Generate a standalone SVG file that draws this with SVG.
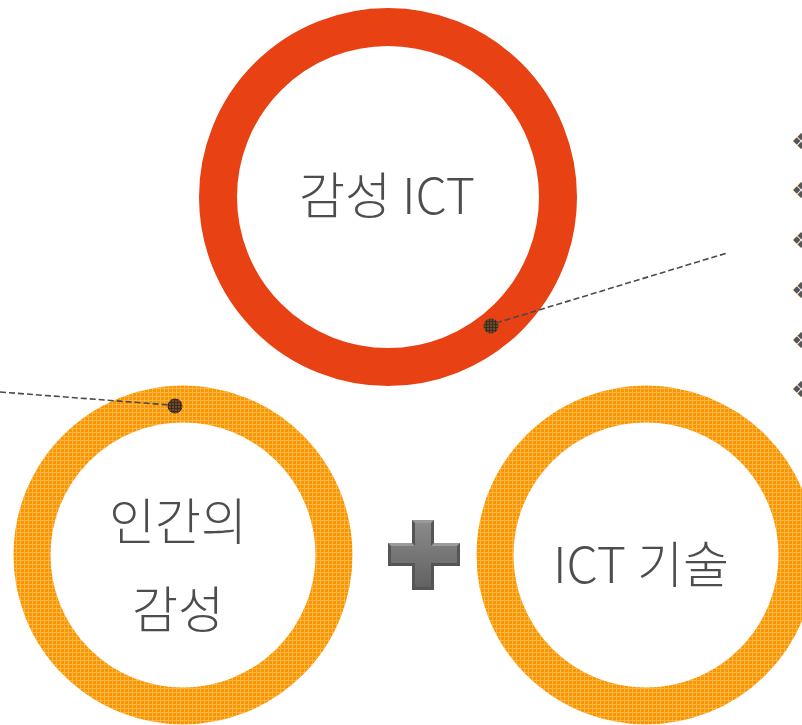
<svg xmlns="http://www.w3.org/2000/svg" width="802" height="725" viewBox="0 0 802 725">
  <style>
    .label { font-family: "Noto Sans CJK KR", "Noto Sans", sans-serif; font-weight: 300; font-size: 50px; fill: #4d4d4d; text-anchor: middle; }
    .leader { fill: none; stroke: #4a4a4a; stroke-width: 1.6; stroke-dasharray: 6 3; }
    .bullet { font-family: "DejaVu Sans", sans-serif; font-size: 22px; fill: #555555; text-anchor: middle; }
  </style>
  <defs>
    <pattern id="orangeTex" width="4" height="4" patternUnits="userSpaceOnUse">
      <rect width="4" height="4" fill="#FA9600"/>
      <rect x="0" y="0" width="1" height="4" fill="#FDB64A"/>
      <rect x="0" y="0" width="4" height="1" fill="#FDB64A"/>
    </pattern>
    <pattern id="dotTex" width="3" height="3" patternUnits="userSpaceOnUse">
      <rect width="3" height="3" fill="#6a4b2c"/>
      <rect x="0" y="0" width="1" height="3" fill="#3f2c1c"/>
      <rect x="0" y="0" width="3" height="1" fill="#3f2c1c"/>
    </pattern>
    <linearGradient id="plusGrad" x1="0" y1="0" x2="0" y2="1">
      <stop offset="0" stop-color="#8a8a8a"/>
      <stop offset="1" stop-color="#626262"/>
    </linearGradient>
  </defs>

  <g id="node-emotional-ict">
    <circle cx="388" cy="197" r="170" fill="#ffffff" stroke="#E84113" stroke-width="38"/>
    <text class="label" x="387" y="214" font-size="52">감성 ICT</text>
  </g>

  <g id="node-human-emotion">
    <circle cx="183" cy="555" r="151" fill="#ffffff" stroke="url(#orangeTex)" stroke-width="37"/>
    <text class="label" x="178" y="540">인간의</text>
    <text class="label" x="178" y="628">감성</text>
  </g>

  <g id="node-ict-tech">
    <circle cx="646" cy="555" r="151" fill="#ffffff" stroke="url(#orangeTex)" stroke-width="37"/>
    <text class="label" x="641" y="583">ICT 기술</text>
  </g>

  <g id="connectors">
    <line class="leader" x1="0" y1="392" x2="170" y2="405"/>
    <line class="leader" x1="496" y1="323" x2="727" y2="253"/>
  </g>

  <g id="dots">
    <circle cx="175" cy="406" r="7.5" fill="url(#dotTex)"/>
    <circle cx="491" cy="326" r="7.5" fill="url(#dotTex)"/>
  </g>

  <g id="plus">
    <path d="M412,520 H434 V543 H460 V566 H434 V590 H412 V566 H388 V543 H412 Z" fill="#555555"/>
    <path d="M415,523 H431 V546 H457 V563 H431 V587 H415 V563 H391 V546 H415 Z" fill="url(#plusGrad)"/>
    <path d="M412,520 H434 L431,523 H415 Z M388,543 H412 L415,546 H391 Z M434,543 H460 L457,546 H431 Z" fill="#9a9a9a"/>
  </g>

  <g id="bullets">
    <text class="bullet" x="801" y="149">❖</text>
    <text class="bullet" x="801" y="198">❖</text>
    <text class="bullet" x="801" y="248">❖</text>
    <text class="bullet" x="801" y="298">❖</text>
    <text class="bullet" x="801" y="348">❖</text>
    <text class="bullet" x="801" y="397">❖</text>
  </g>
</svg>
